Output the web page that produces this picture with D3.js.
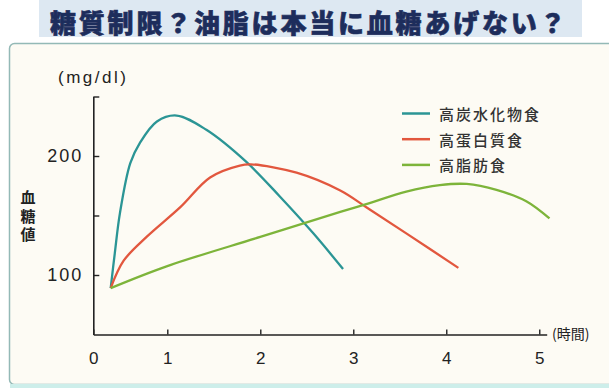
<!DOCTYPE html>
<html>
<head>
<meta charset="utf-8">
<script src="https://cdn.jsdelivr.net/npm/d3@7"></script>
<style>
  body { margin: 0; background: #fff; }
  svg { display: block; }
</style>
</head>
<body>
<div id="chart"></div>
<script>
// series: hours after meal -> blood glucose (mg/dl)
var series_names = ["高炭水化物食", "高蛋白質食", "高脂肪食"];
var series_colors = ["#2b9595", "#e2573e", "#7db43a"];

var carb_hours  = [0.235, 0.29, 0.36, 0.50, 0.63, 0.86, 1.10, 1.42, 1.85, 2.21, 2.57, 2.89];
var carb_values = [89, 118, 152, 194, 211, 229, 234, 222, 195, 166, 135, 105];

var protein_hours  = [0.235, 0.41, 0.72, 1.14, 1.46, 1.78, 1.90, 2.39, 2.86, 3.14, 3.57, 4.13];
var protein_values = [89, 112, 132, 157, 182, 192, 193, 186, 171, 157, 135, 106];

var fat_hours  = [0.235, 1.0, 2.0, 2.86, 3.14, 3.57, 3.93, 4.22, 4.54, 4.86, 5.11];
var fat_values = [89, 107.5, 132, 153, 159.5, 170, 175.5, 176.5, 171.5, 162, 147.5];

var x_ticks = [0, 1, 2, 3, 4, 5];
var y_ticks = [100, 150, 200, 250];
var y_labels = [100, 200];

var title_text = "糖質制限？油脂は本当に血糖あげない？";
var y_unit = "(mg/dl)";
var y_title = "血糖値";
var x_unit = "(時間)";

var width = 609, height = 388;
var jp = "'Noto Sans CJK JP', sans-serif";
var num = "'Liberation Sans', Arial, sans-serif";

var svg = d3.select("#chart")
    .append("svg")
        .attr("width", width)
        .attr("height", height);

// title band
svg.append("rect")
    .attr("x", 39).attr("y", 0)
    .attr("width", 543).attr("height", 37)
    .attr("fill", "#dde8f2");

svg.append("text")
    .attr("x", 50).attr("y", 21)
    .attr("dominant-baseline", "central")
    .attr("font-family", jp)
    .attr("font-weight", 900)
    .attr("font-size", 26)
    .attr("letter-spacing", 2.8)
    .attr("fill", "#1d2d5c")
    .attr("stroke", "#1d2d5c")
    .attr("stroke-width", 0.6)
    .text(title_text);

// panel
svg.append("rect")
    .attr("x", 9.5).attr("y", 43.5)
    .attr("width", 640).attr("height", 341)
    .attr("rx", 5)
    .attr("fill", "#fdfbf4")
    .attr("stroke", "#93b9b6")
    .attr("stroke-width", 1.5);

svg.append("rect")
    .attr("x", 10).attr("y", 384)
    .attr("width", 600).attr("height", 4)
    .attr("fill", "#cdeeea");

// scales: "0" sits at the y axis, the hour ticks 1..5 are evenly spaced
var x = d3.scaleLinear()
    .domain([0, 1, 5.08])
    .range([93.3, 167.3, 546.7]);

var y = d3.scaleLinear()
    .domain([50, 250])
    .range([334.5, 96.5]);

// axes
var xAxis = svg.append("g")
    .attr("transform", "translate(0," + y(50) + ")")
    .call(d3.axisBottom(x)
        .tickValues(x_ticks)
        .tickSizeInner(-5)
        .tickSizeOuter(0)
        .tickPadding(17)
        .tickFormat(d3.format("d")));

var yAxis = svg.append("g")
    .attr("transform", "translate(" + x(0) + ",0)")
    .call(d3.axisLeft(y)
        .tickValues(y_ticks)
        .tickSizeInner(-6)
        .tickSizeOuter(0)
        .tickPadding(10)
        .tickFormat(d => y_labels.includes(d) ? d : ""));

[xAxis, yAxis].forEach(function(a) {
    a.select(".domain").attr("stroke", "#222").attr("stroke-width", 1.6);
    a.selectAll(".tick line").attr("stroke", "#222").attr("stroke-width", 1.4);
    a.selectAll(".tick text")
        .attr("font-family", num)
        .attr("fill", "#222");
});
xAxis.selectAll(".tick text").attr("font-size", 17);
yAxis.selectAll(".tick text").attr("font-size", 18).attr("letter-spacing", 2);

// unit labels
svg.append("text")
    .attr("x", 58).attr("y", 77)
    .attr("dominant-baseline", "central")
    .attr("font-family", num)
    .attr("font-size", 17)
    .attr("letter-spacing", 2.5)
    .attr("fill", "#222")
    .text(y_unit);

svg.append("text")
    .attr("x", 552).attr("y", 333)
    .attr("dominant-baseline", "central")
    .attr("font-family", jp)
    .attr("font-size", 14)
    .attr("fill", "#222")
    .text(x_unit);

// vertical axis title
svg.append("text")
    .attr("x", 28).attr("y", 190)
    .attr("writing-mode", "vertical-rl")
    .attr("text-orientation", "upright")
    .attr("font-family", jp)
    .attr("font-weight", 700)
    .attr("font-size", 15)
    .attr("letter-spacing", 3.5)
    .attr("fill", "#222")
    .text(y_title);

// lines
var data = [
    d3.zip(carb_hours, carb_values),
    d3.zip(protein_hours, protein_values),
    d3.zip(fat_hours, fat_values)
];

var line = d3.line()
    .x(d => x(d[0]))
    .y(d => y(d[1]))
    .curve(d3.curveCatmullRom.alpha(0.5));

svg.append("g")
    .selectAll("path")
    .data(data)
    .join("path")
        .attr("d", line)
        .attr("fill", "none")
        .attr("stroke", (d, i) => series_colors[i])
        .attr("stroke-width", 2.3)
        .attr("stroke-linejoin", "round");

// legend
var legend = svg.append("g")
    .selectAll("g")
    .data(series_names)
    .join("g")
        .attr("transform", (d, i) => "translate(402," + (113.5 + i * 25.7) + ")");

legend.append("line")
    .attr("x1", 0).attr("x2", 28)
    .attr("stroke", (d, i) => series_colors[i])
    .attr("stroke-width", 2.5);

legend.append("text")
    .attr("x", 37)
    .attr("dominant-baseline", "central")
    .attr("font-family", jp)
    .attr("font-weight", 500)
    .attr("font-size", 15)
    .attr("letter-spacing", 2)
    .attr("fill", "#333")
    .text(d => d);
</script>
</body>
</html>
